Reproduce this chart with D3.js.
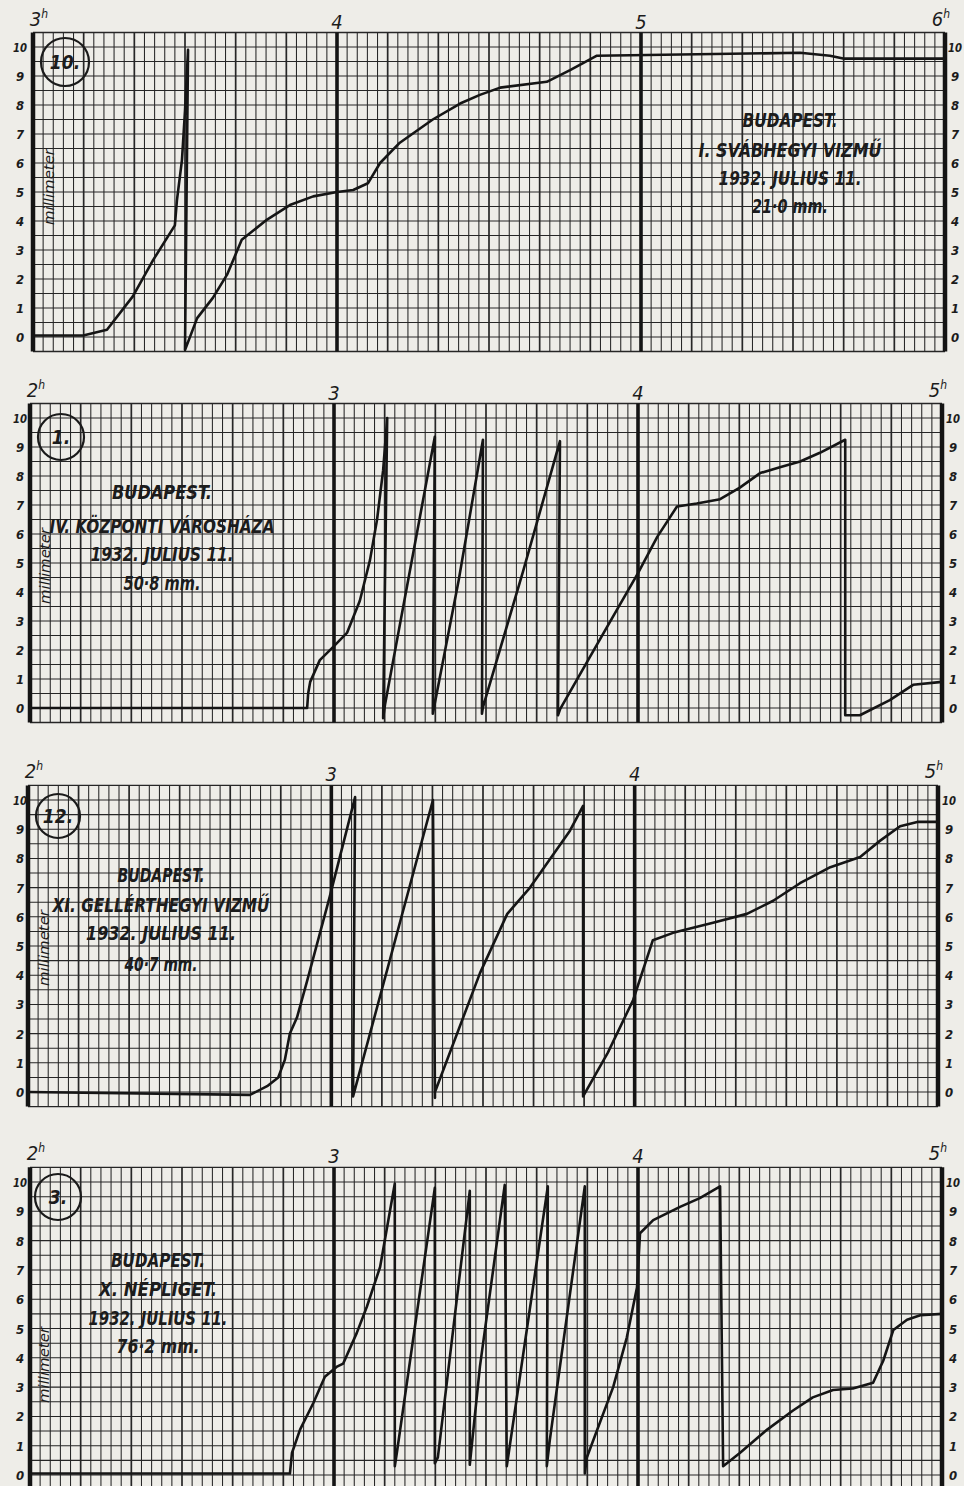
<!DOCTYPE html>
<html>
<head>
<meta charset="utf-8">
<script src="https://cdn.jsdelivr.net/npm/d3@7"></script>
<style>
  body { margin: 0; background: #eeede8; }
  svg { display: block; }
  text { font-family: "DejaVu Sans Condensed", "DejaVu Sans", sans-serif; font-style: italic; fill: #1c1c1c; }
</style>
</head>
<body>
<svg id="chart" width="964" height="1486"></svg>
<script>
// ---- data: pen traces as [minutes after first hour, millimetre] ----
const svabTrace = [
  [0, 0.05], [9.9, 0.05], [14.6, 0.25], [19.7, 1.4], [23.7, 2.65], [28, 3.85], [28.4, 4.7],
  [29.4, 6.1], [30, 7.8], [30.6, 9.9], [30, -0.45], [32.4, 0.65], [35.5, 1.35], [38.3, 2.15],
  [41.2, 3.35], [46.2, 4.05], [50.7, 4.55], [55.3, 4.85], [60, 5.0], [63.2, 5.07], [66.1, 5.3],
  [68.5, 6.0], [72.4, 6.7], [78.9, 7.5], [84.3, 8.05], [88.2, 8.35], [92.2, 8.6], [101.4, 8.8],
  [106, 9.2], [111.3, 9.7], [151.4, 9.8], [157.3, 9.7], [159.9, 9.6], [180, 9.6]
]
const varoshazaTrace = [
  [0, 0], [54.7, 0], [54.9, 0.5], [55.3, 0.9], [57.2, 1.65], [59.8, 2.1], [62.6, 2.6],
  [65.1, 3.7], [67.1, 5.1], [68.5, 6.5], [69.7, 8.2], [70.5, 10.0], [69.7, -0.35],
  [70.1, 0.15], [79.9, 9.35], [79.5, -0.2], [84.6, 4.4], [89.4, 9.25], [89.2, -0.2],
  [89.4, 0.03], [97.3, 4.7], [104.6, 9.2], [104.2, -0.25], [104.6, -0.05], [113.9, 2.8],
  [120, 4.65], [123.8, 5.9], [127.7, 6.95], [131.6, 7.05], [136.2, 7.2], [140.1, 7.6],
  [144.1, 8.1], [148, 8.3], [152, 8.5], [155.9, 8.8], [160.9, 9.25], [160.9, -0.25],
  [163.8, -0.25], [169.7, 0.27], [174.3, 0.8], [180, 0.9]
]
const gellertTrace = [
  [0, 0], [43.9, -0.1], [47.3, 0.2], [49.5, 0.5], [50.8, 1.1], [51.8, 2.0], [53.2, 2.55],
  [55.2, 3.8], [59.7, 6.7], [64.7, 10.1], [64.3, -0.15], [80.1, 10.0], [80.5, -0.2],
  [80.5, 0], [89.4, 4.07], [94.8, 6.1], [99.3, 7.0], [107.2, 8.95], [109.8, 9.8],
  [109.8, -0.15], [114.7, 1.35], [119.7, 3.15], [123.6, 5.2], [127.6, 5.45], [135.5, 5.8],
  [142.2, 6.1], [147.4, 6.55], [152.7, 7.15], [158.7, 7.7], [164.6, 8.05], [168.5, 8.6],
  [172.5, 9.1], [175.9, 9.25], [180, 9.25]
]
const nepligetTrace = [
  [0, 0.05], [51.3, 0.05], [51.7, 0.75], [53.3, 1.55], [55.9, 2.45], [58.2, 3.35],
  [60.6, 3.7], [61.8, 3.8], [64.5, 4.85], [66.5, 5.75], [69.1, 7.1], [72, 9.95],
  [72, 0.3], [72.4, 0.75], [79.9, 9.8], [79.9, 0.4], [80.5, 0.6], [86.8, 9.7],
  [86.8, 0.35], [88.8, 3.7], [93.7, 9.9], [94.1, 0.3], [102.2, 9.85], [102, 0.3],
  [102.6, 1.2], [109.5, 9.85], [109.5, 0.05], [109.9, 0.6], [115.1, 3.0], [117.8, 4.7],
  [119.8, 6.4], [120.4, 8.25], [123, 8.7], [128.3, 9.15], [132.2, 9.45], [136.2, 9.85],
  [136.8, 0.3], [140.1, 0.75], [145.5, 1.55], [150.6, 2.2], [154.5, 2.65], [158.5, 2.9],
  [162.4, 2.95], [166.4, 3.15], [168.4, 3.9], [170.4, 4.95], [173.1, 5.3], [175.7, 5.45],
  [180, 5.5]
]

// hour labels along the top, millimetre ticks on both sides
const svabHours = [3, 4, 5, 6]
const afternoonHours = [2, 3, 4, 5]
const mmTicks = [0, 1, 2, 3, 4, 5, 6, 7, 8, 9, 10]

// station captions
const panelNumbers = ['10.', '1.', '12.', '3.']
const svabText = ['BUDAPEST.', 'I. SVÁBHEGYI VIZMŰ', '1932. JULIUS 11.', '21·0 mm.']
const varoshazaText = ['BUDAPEST.', 'IV. KÖZPONTI VÁROSHÁZA', '1932. JULIUS 11.', '50·8 mm.']
const gellertText = ['BUDAPEST.', 'XI. GELLÉRTHEGYI VIZMŰ', '1932. JULIUS 11.', '40·7 mm.']
const nepligetText = ['BUDAPEST.', 'X. NÉPLIGET.', '1932. JULIUS 11.', '76·2 mm.']

// ---- layout ----
const panels = [
  { trace: svabTrace, hours: svabHours, text: svabText, num: panelNumbers[0],
    x0: 33, x1: 945, zero: 337, ten: 47, textX: 790, textY: [127, 157, 185, 213],
    widths: [95, 183, 143, 76], circle: [65, 62, 24], mm: [49, 187] },
  { trace: varoshazaTrace, hours: afternoonHours, text: varoshazaText, num: panelNumbers[1],
    x0: 30, x1: 942, zero: 708, ten: 418, textX: 162, textY: [499, 533, 561, 590],
    widths: [100, 225, 143, 77], circle: [61, 437, 23], mm: [45, 566] },
  { trace: gellertTrace, hours: afternoonHours, text: gellertText, num: panelNumbers[2],
    x0: 28, x1: 938, zero: 1092, ten: 800, textX: 161, textY: [882, 912, 940, 971],
    widths: [87, 217, 150, 73], circle: [58, 816, 22], mm: [44, 948] },
  { trace: nepligetTrace, hours: afternoonHours, text: nepligetText, num: panelNumbers[3],
    x0: 30, x1: 942, zero: 1475, ten: 1182, textX: 158, textY: [1267, 1296, 1325, 1353],
    widths: [94, 118, 139, 83], circle: [58, 1197, 23], mm: [44, 1365] }
]

const svg = d3.select('#chart')
const ink = '#262626'

panels.forEach((p) => {
  const x = d3.scaleLinear().domain([0, 180]).range([p.x0, p.x1])
  const y = d3.scaleLinear().domain([0, 10]).range([p.zero, p.ten])
  const g = svg.append('g')
  const top = y(10.5)
  const bottom = y(-0.5)

  // horizontal rulings every half millimetre
  g.append('g')
    .selectAll('line')
    .data(d3.range(-0.5, 10.51, 0.5))
    .join('line')
    .attr('x1', p.x0).attr('x2', p.x1)
    .attr('y1', (d) => y(d)).attr('y2', (d) => y(d))
    .attr('stroke', ink)
    .attr('stroke-width', (d) => (d === 10.5 || d === -0.5 ? 1.4 : 1.05))

  // vertical rulings every two minutes
  g.append('g')
    .selectAll('line')
    .data(d3.range(0, 181, 2))
    .join('line')
    .attr('x1', (d) => x(d)).attr('x2', (d) => x(d))
    .attr('y1', top).attr('y2', bottom)
    .attr('stroke', (d) => (d % 60 === 0 ? '#141414' : ink))
    .attr('stroke-width', (d) => (d === 0 || d === 180 ? 4.5 : d % 60 === 0 ? 3.6 : d % 10 === 0 ? 1.7 : 1.05))

  // hour labels
  g.append('g')
    .selectAll('text')
    .data(p.hours)
    .join('text')
    .attr('x', (d, i) => x(i * 60) + (i === 0 ? 6 : i === 3 ? -4 : 0))
    .attr('y', (d, i) => top - (i === 0 || i === 3 ? 7 : 4))
    .attr('text-anchor', 'middle')
    .attr('font-size', 20)
    .each(function (d, i) {
      const t = d3.select(this)
      t.append('tspan').text(d)
      if (i === 0 || i === 3) t.append('tspan').attr('dy', -8).attr('font-size', 12).text('h')
    })

  // millimetre ticks, left and right
  ;[20, Math.min(p.x1 + 11, 955)].forEach((tx) => {
    g.append('g')
      .selectAll('text')
      .data(mmTicks)
      .join('text')
      .attr('x', tx)
      .attr('y', (d) => y(d) + 5)
      .attr('text-anchor', 'middle')
      .attr('font-size', 13)
      .attr('font-weight', 'bold')
      .attr('textLength', (d) => (d === 10 ? 14 : null))
      .attr('lengthAdjust', 'spacingAndGlyphs')
      .text((d) => d)
  })

  // "millimeter" vertical label
  g.append('text')
    .attr('transform', `translate(${p.mm[0]},${p.mm[1]}) rotate(-90)`)
    .attr('text-anchor', 'middle')
    .attr('dy', 5)
    .attr('font-size', 14)
    .attr('textLength', 76)
    .attr('lengthAdjust', 'spacingAndGlyphs')
    .text('millimeter')

  // numbered circle
  g.append('circle')
    .attr('cx', p.circle[0]).attr('cy', p.circle[1]).attr('r', p.circle[2])
    .attr('fill', 'none').attr('stroke', '#1a1a1a').attr('stroke-width', 2.2)
  g.append('text')
    .attr('x', p.circle[0]).attr('y', p.circle[1] + 7)
    .attr('text-anchor', 'middle')
    .attr('font-size', 19)
    .attr('font-weight', 'bold')
    .text(p.num)

  // station caption
  g.append('g')
    .selectAll('text')
    .data(p.text)
    .join('text')
    .attr('x', p.textX)
    .attr('y', (d, i) => p.textY[i])
    .attr('text-anchor', 'middle')
    .attr('font-size', 19)
    .attr('font-weight', 'bold')
    .attr('textLength', (d, i) => p.widths[i])
    .attr('lengthAdjust', 'spacingAndGlyphs')
    .text((d) => d)

  // pen trace
  const line = d3.line()
    .x((d) => x(d[0]))
    .y((d) => y(d[1]))
  g.append('path')
    .datum(p.trace)
    .attr('d', line)
    .attr('fill', 'none')
    .attr('stroke', '#151515')
    .attr('stroke-width', 2.6)
    .attr('stroke-linejoin', 'round')
})
</script>
</body>
</html>
